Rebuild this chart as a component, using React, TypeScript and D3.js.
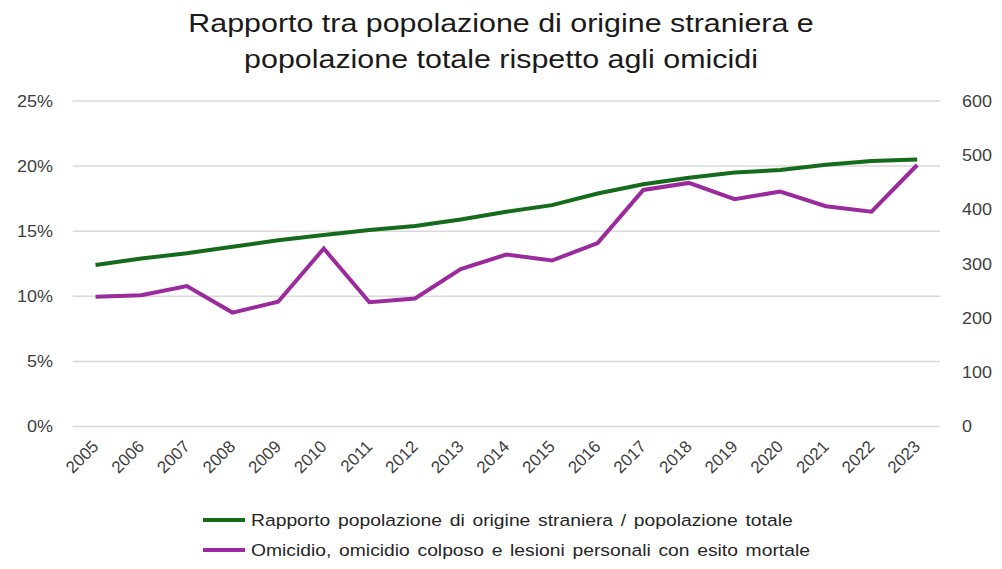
import React, { useEffect, useRef } from 'react';
import * as d3 from 'd3';

const years = ['2005', '2006', '2007', '2008', '2009', '2010', '2011', '2012', '2013', '2014', '2015', '2016', '2017', '2018', '2019', '2020', '2021', '2022', '2023'];
// share of foreign-born population (%)
const ratioPct = [12.4, 12.9, 13.3, 13.8, 14.3, 14.7, 15.1, 15.4, 15.9, 16.5, 17.0, 17.9, 18.6, 19.1, 19.5, 19.7, 20.1, 20.4, 20.5];
// homicides (count)
const homicides = [239, 242, 259, 210, 230, 328, 229, 236, 290, 317, 306, 338, 436, 449, 419, 433, 406, 396, 482];
const leftTicks = [0, 5, 10, 15, 20, 25];
const rightTicks = [0, 100, 200, 300, 400, 500, 600];
const titleLines = ['Rapporto tra popolazione di origine straniera e', 'popolazione totale rispetto agli omicidi'];
const legendLabels = [
  'Rapporto popolazione di origine straniera / popolazione totale',
  'Omicidio, omicidio colposo e lesioni personali con esito mortale',
];

const GREEN = '#146b1c';
const PURPLE = '#9b2a9c';
// the source image is slightly stretched horizontally
const SX = 1.17;

const App: React.FC = () => {
  const ref = useRef<SVGSVGElement>(null);

  useEffect(() => {
    if (!ref.current) return;
    const svg = d3.select(ref.current);
    svg.selectAll('*').remove();

    const left = 72.7, right = 940, top = 101, bottom = 426.5;
    const font = 'Liberation Sans, Arial, sans-serif';

    const x = d3.scalePoint<string>().domain(years).range([left, right]).padding(0.5);
    const yL = d3.scaleLinear().domain([0, 25]).range([bottom, top]);
    const yR = d3.scaleLinear().domain([0, 600]).range([bottom, top]);

    // title
    svg.append('g')
      .selectAll('text')
      .data(titleLines)
      .enter()
      .append('text')
      .attr('transform', (d, i) => `translate(501,${32 + i * 36}) scale(${SX},1)`)
      .attr('text-anchor', 'middle')
      .attr('font-family', font)
      .attr('font-size', 26)
      .attr('fill', '#1a1a1a')
      .text((d) => d);

    // grid
    svg.append('g')
      .selectAll('line')
      .data(leftTicks)
      .enter()
      .append('line')
      .attr('x1', left)
      .attr('x2', right)
      .attr('y1', (d) => yL(d))
      .attr('y2', (d) => yL(d))
      .attr('stroke', '#d9d9d9')
      .attr('stroke-width', 1.5);

    // left axis labels
    svg.append('g')
      .selectAll('text')
      .data(leftTicks)
      .enter()
      .append('text')
      .attr('transform', (d) => `translate(53,${yL(d)}) scale(1.06,1)`)
      .attr('dy', '0.35em')
      .attr('text-anchor', 'end')
      .attr('font-family', font)
      .attr('font-size', 17)
      .attr('fill', '#404040')
      .text((d) => `${d}%`);

    // right axis labels
    svg.append('g')
      .selectAll('text')
      .data(rightTicks)
      .enter()
      .append('text')
      .attr('transform', (d) => `translate(962,${yR(d)}) scale(1.06,1)`)
      .attr('dy', '0.35em')
      .attr('text-anchor', 'start')
      .attr('font-family', font)
      .attr('font-size', 17)
      .attr('fill', '#404040')
      .text((d) => d);

    // x labels rotated
    svg.append('g')
      .selectAll('text')
      .data(years)
      .enter()
      .append('text')
      .attr('transform', (d) => `translate(${(x(d) ?? 0) + 4},${bottom + 21}) rotate(-45)`)
      .attr('text-anchor', 'end')
      .attr('font-family', font)
      .attr('font-size', 17)
      .attr('fill', '#404040')
      .text((d) => d);

    const lineL = d3.line<number>().x((d, i) => x(years[i]) ?? 0).y((d) => yL(d));
    const lineR = d3.line<number>().x((d, i) => x(years[i]) ?? 0).y((d) => yR(d));

    svg.append('path')
      .datum(homicides)
      .attr('d', lineR)
      .attr('fill', 'none')
      .attr('stroke', PURPLE)
      .attr('stroke-width', 4);

    svg.append('path')
      .datum(ratioPct)
      .attr('d', lineL)
      .attr('fill', 'none')
      .attr('stroke', GREEN)
      .attr('stroke-width', 4);

    // legend
    const legend = svg.append('g')
      .selectAll('g')
      .data(legendLabels)
      .enter()
      .append('g')
      .attr('transform', (d, i) => `translate(203,${520 + i * 30})`);

    legend.append('line')
      .attr('x1', 0)
      .attr('x2', 42)
      .attr('stroke', (d, i) => (i === 0 ? GREEN : PURPLE))
      .attr('stroke-width', 4);

    legend.append('text')
      .attr('transform', `translate(48,0) scale(${SX},1)`)
      .attr('dy', '0.35em')
      .attr('font-family', font)
      .attr('font-size', 16.5)
      .attr('word-spacing', 2)
      .attr('fill', '#262626')
      .text((d) => d);

    return () => {
      svg.selectAll('*').remove();
    };
  }, []);

  return (
    <svg
      ref={ref}
      width={1002}
      height={569}
      style={{ position: 'absolute', left: 0, top: 0, background: '#fff' }}
    />
  );
};

export default App;
